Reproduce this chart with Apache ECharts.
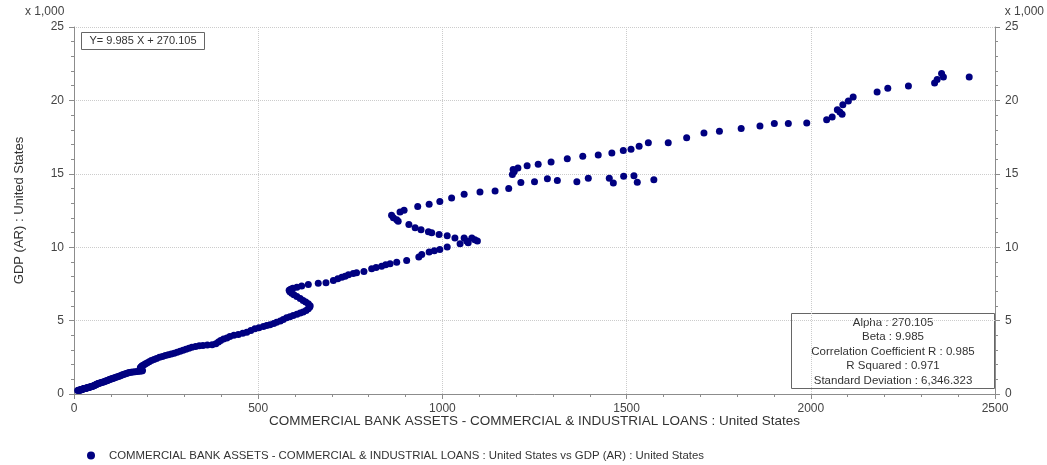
<!DOCTYPE html>
<html><head><meta charset="utf-8">
<script src="https://cdn.jsdelivr.net/npm/echarts@6/dist/echarts.min.js"></script>
<style>html,body{margin:0;padding:0;background:#fff}#c{width:1047px;height:465px}</style>
</head><body><div id="c"></div>
<script>
// Commercial & industrial loans (x) and GDP in thousands (y)
const loans = [
10,12,14,15,17,18,19,20,22,23,24,26,27,28,30,31,33,34,36,37,39,40,42,44,46,48,50,52,54,56,58,60,62,64,66,68,71,74,77,80,83,86,89,92,95,98,101,104,107,110,114,118,122,126,130,134,138,142,146,150,155,160,166,172,178,184,
186,183,181,180,182,185,189,193,198,204,210,217,224,232,240,248,256,264,272,280,288,296,304,312,320,330,340,350,362,375,385,392,398,406,415,423,434,446,458,469,480,491,502,514,523,532,542,550,560,568,577,586,595,605,614,622,630,636,640,641,636,629,622,614,605,597,591,586,584,588,594,605,618,636,663,684,704,716,727,736,745,758,767,787,808,820,835,846,858,876,903,936,944,964,978,993,1013,1048,1070,1095,1088,1066,1080,1059,1034,1013,991,971,962,942,926,909,880,876,867,862,885,896,933,964,993,1025,1059,1102,1143,
1180,1213,1250,1285,1312,1365,1396,1453,1464,1492,1520,1529,1574,
1190,1195,1192,1205,1230,1260,1295,1339,1381,1423,1460,1491,1512,1534,1559,1613,1663,1710,1752,1811,1862,1901,1939,1989,2043,2058,2072,2079,2085,2087,2102,2115,2180,2209,2265,2336,2343,2355,2360,2430
];
const gdp = [
0.24,0.25,0.26,0.27,0.27,0.28,0.29,0.30,0.32,0.33,0.34,0.35,0.36,0.37,0.38,0.39,0.40,0.41,0.42,0.43,0.44,0.45,0.47,0.48,0.50,0.51,0.53,0.55,0.57,0.59,0.62,0.64,0.67,0.69,0.71,0.73,0.75,0.78,0.80,0.82,0.85,0.88,0.91,0.94,0.97,1.00,1.03,1.06,1.08,1.11,1.14,1.17,1.21,1.25,1.29,1.33,1.37,1.40,1.43,1.46,1.48,1.50,1.52,1.54,1.55,1.56,
1.60,1.66,1.72,1.78,1.85,1.92,1.98,2.05,2.12,2.20,2.28,2.35,2.42,2.50,2.56,2.62,2.67,2.72,2.78,2.85,2.92,2.98,3.05,3.12,3.19,3.24,3.28,3.31,3.33,3.36,3.42,3.55,3.65,3.74,3.82,3.92,4.00,4.06,4.13,4.21,4.32,4.44,4.52,4.60,4.66,4.72,4.80,4.89,4.98,5.08,5.19,5.27,5.35,5.44,5.51,5.58,5.68,5.81,5.92,6.02,6.15,6.26,6.37,6.50,6.65,6.76,6.87,6.96,7.06,7.14,7.21,7.28,7.35,7.46,7.55,7.58,7.74,7.85,7.96,8.02,8.12,8.20,8.26,8.35,8.53,8.62,8.71,8.80,8.88,8.98,9.10,9.33,9.51,9.67,9.76,9.85,10.01,10.24,10.31,10.42,10.51,10.42,10.62,10.62,10.62,10.78,10.87,10.99,11.06,11.19,11.33,11.55,11.76,11.87,12.01,12.17,12.39,12.51,12.78,12.92,13.12,13.35,13.60,13.76,13.82,
14.00,14.40,14.45,14.67,14.55,14.45,14.69,14.69,14.37,14.83,14.87,14.42,14.60,
14.95,15.15,15.30,15.40,15.55,15.65,15.80,16.03,16.19,16.28,16.41,16.58,16.67,16.87,17.12,17.12,17.46,17.78,17.89,18.08,18.26,18.42,18.42,18.46,18.69,18.87,19.37,19.21,19.05,19.71,19.96,20.23,20.57,20.82,20.98,21.19,21.42,21.83,21.60,21.60
];
const xTicks = [0, 500, 1000, 1500, 2000, 2500];
const yTicks = [0, 5, 10, 15, 20, 25];
const equationText = 'Y= 9.985 X + 270.105';
const statsLines = ['Alpha : 270.105', 'Beta : 9.985', 'Correlation Coefficient R : 0.985', 'R Squared : 0.971', 'Standard Deviation : 6,346.323'];
const unitText = 'x 1,000';
const xName = 'COMMERCIAL BANK ASSETS - COMMERCIAL & INDUSTRIAL LOANS : United States';
const yName = 'GDP (AR) : United States';
const seriesName = xName + ' vs ' + yName;

const points = loans.map((v, i) => [v, gdp[i]]);
const FONT = 'Liberation Sans, Arial, sans-serif';
const axisGray = '#8c8c8c';
const chart = echarts.init(document.getElementById('c'));

const yAxisCommon = {
  type: 'value', min: yTicks[0], max: yTicks[yTicks.length - 1], interval: yTicks[1] - yTicks[0],
  axisLine: { show: true, lineStyle: { color: axisGray } },
  axisTick: { show: true, length: 5, lineStyle: { color: axisGray } },
  minorTick: { show: true, splitNumber: 5, length: 3, lineStyle: { color: axisGray } },
  axisLabel: { color: '#444', fontSize: 12, fontFamily: FONT, margin: 10 },
};

chart.setOption({
  animation: false,
  backgroundColor: '#fff',
  grid: { left: 74, right: 52, top: 27, bottom: 71 },
  xAxis: {
    type: 'value', min: xTicks[0], max: xTicks[xTicks.length - 1], interval: xTicks[1] - xTicks[0],
    axisLine: { show: true, onZero: false, lineStyle: { color: axisGray } },
    axisTick: { show: true, length: 5, lineStyle: { color: axisGray } },
    minorTick: { show: true, splitNumber: 5, length: 3, lineStyle: { color: axisGray } },
    splitLine: { show: true, lineStyle: { color: '#cccccc', type: 'dotted' } },
    axisLabel: { color: '#444', fontSize: 12, fontFamily: FONT, margin: 9, formatter: v => String(v) },
    name: xName, nameLocation: 'middle', nameGap: 20, nameMoveOverlap: false,
    nameTextStyle: { color: '#333', fontSize: 13.5, fontFamily: FONT }
  },
  yAxis: [
    Object.assign({}, yAxisCommon, {
      position: 'left',
      splitLine: { show: true, lineStyle: { color: '#cccccc', type: 'dotted' } },
      name: yName, nameLocation: 'middle', nameGap: 48, nameMoveOverlap: false,
      nameTextStyle: { color: '#333', fontSize: 13, fontFamily: FONT }
    }),
    Object.assign({}, yAxisCommon, {
      position: 'right',
      splitLine: { show: false }
    })
  ],
  legend: {
    left: 82, top: 445, itemWidth: 8, itemHeight: 8, itemGap: 6,
    icon: 'circle',
    textStyle: { color: '#333', fontSize: 11.4, fontFamily: FONT, padding: [0, 0, 0, 9] },
    data: [seriesName]
  },
  graphic: [
    { type: 'text', left: 25, top: 6, style: { text: unitText, fill: '#444', font: '12px ' + FONT } },
    { type: 'text', right: 3, top: 6, style: { text: unitText, fill: '#444', font: '12px ' + FONT } },
    {
      type: 'group', left: 81, top: 32, children: [
        { type: 'rect', shape: { x: 0, y: 0, width: 123, height: 17 }, style: { fill: '#fff', stroke: '#666', lineWidth: 1 } },
        { type: 'text', style: { x: 61.5, y: 8.5, text: equationText, fill: '#333', font: '11px ' + FONT, align: 'center', verticalAlign: 'middle' } }
      ]
    },
    {
      type: 'group', left: 791, top: 313, z: 100, children: [
        { type: 'rect', shape: { x: 0, y: 0, width: 203, height: 75 }, style: { fill: '#fff', stroke: '#666', lineWidth: 1 } }
      ].concat(statsLines.map((t, i) => ({
        type: 'text', style: { x: 101.5, y: 9 + i * 14.6, text: t, fill: '#333', font: '11.5px ' + FONT, align: 'center', verticalAlign: 'middle' }
      })))
    }
  ],
  series: [{
    name: seriesName, type: 'scatter', yAxisIndex: 0,
    symbol: 'circle', symbolSize: 7,
    itemStyle: { color: '#000080', opacity: 1 },
    data: points
  }]
});
</script></body></html>
